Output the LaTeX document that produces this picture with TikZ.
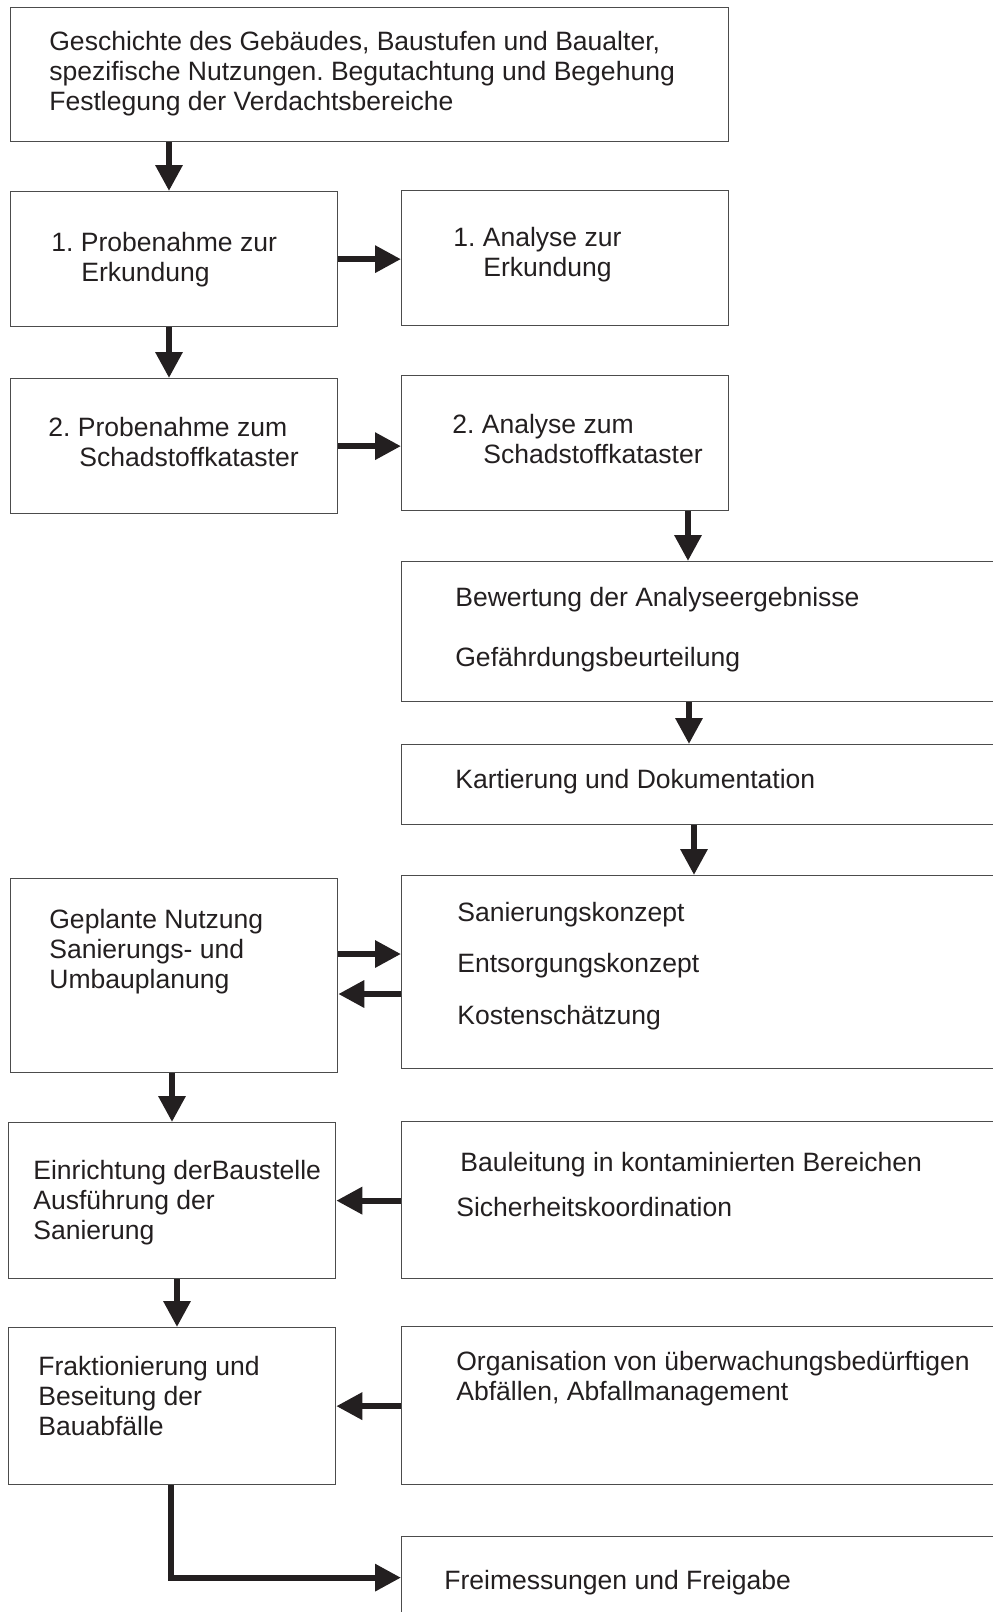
\documentclass[tikz,border=0pt]{standalone}
\usepackage{fontspec}
\setmainfont{Liberation Sans}
\usetikzlibrary{arrows.meta}
\definecolor{tinte}{HTML}{231F20}
\tikzset{
  kasten/.style={draw=black!70, line width=0.25mm, anchor=north west, inner sep=0pt},
  schmal/.style={minimum width=65.4mm},
  breit/.style={minimum width=129.8mm},
  beschriftung/.style={anchor=base west, inner sep=0pt, align=left, text=tinte,
    font=\fontsize{15.1pt}{16.8pt}\selectfont\frenchspacing},
  pfeil/.style={draw=tinte, line width=1.25mm, -{Triangle[length=5.2mm,width=5.2mm]}},
}

\begin{document}
\begin{tikzpicture}[x=0.2mm,y=-0.2mm]
\clip (0,0) rectangle (993,1612);

% Erfassung (Texte sitzen auf der Grundlinie der letzten Zeile)
\node[kasten, minimum width=143.6mm, minimum height=26.8mm] (gesch) at (10,7) {};
\node[beschriftung] (gesch-t) at (49,110) {Geschichte des Gebäudes, Baustufen und Baualter,\\spezifische Nutzungen. Begutachtung und Begehung\\Festlegung der Verdachtsbereiche};

% Probenahme und Analyse
\node[kasten, schmal, minimum height=27mm] (probe1) at (10,191) {};
\node[beschriftung] (probe1-t) at (51,281) {1. Probenahme zur\\\hspace*{6mm}Erkundung};
\node[kasten, schmal, minimum height=27mm] (analyse1) at (401,190) {};
\node[beschriftung] (analyse1-t) at (453,276) {1. Analyse zur\\\hspace*{6mm}Erkundung};
\node[kasten, schmal, minimum height=27mm] (probe2) at (10,378) {};
\node[beschriftung] (probe2-t) at (48,466) {2. Probenahme zum\\\hspace*{6.2mm}Schadstoffkataster};
\node[kasten, schmal, minimum height=27mm] (analyse2) at (401,375) {};
\node[beschriftung] (analyse2-t) at (452,463) {2. Analyse zum\\\hspace*{6.2mm}Schadstoffkataster};

% Bewertung und Dokumentation
\node[kasten, breit, minimum height=28mm] (bewertung) at (401,561) {};
\node[beschriftung] (bewertung-t) at (455,666) {Bewertung der Analyseergebnisse\\[5.9mm]Gefährdungsbeurteilung};
\node[kasten, breit, minimum height=16mm] (kartierung) at (401,744) {};
\node[beschriftung] (kartierung-t) at (455,788) {Kartierung und Dokumentation};

% Planung
\node[kasten, breit, minimum height=38.6mm] (konzept) at (401,875) {};
\node[beschriftung] (konzept-t) at (457,1024) {Sanierungskonzept\\[4.3mm]Entsorgungskonzept\\[4.3mm]Kostenschätzung};
\node[kasten, schmal, minimum height=38.8mm] (nutzung) at (10,878) {};
\node[beschriftung] (nutzung-t) at (49,988) {Geplante Nutzung\\Sanierungs- und\\Umbauplanung};

% Ausfuehrung
\node[kasten, schmal, minimum height=31.2mm] (baustelle) at (8,1122) {};
\node[beschriftung] (baustelle-t) at (33,1239) {Einrichtung derBaustelle\\Ausführung der\\Sanierung};
\node[kasten, breit, minimum height=31.4mm] (bauleitung) at (401,1121) {};
\node[beschriftung] (bauleitung-t) at (456,1216) {\hspace*{0.8mm}Bauleitung in kontaminierten Bereichen\\[2.9mm]Sicherheitskoordination};
\node[kasten, schmal, minimum height=31.4mm] (bauabfall) at (8,1327) {};
\node[beschriftung] (bauabfall-t) at (38,1435) {Fraktionierung und\\Beseitung der\\Bauabfälle};
\node[kasten, breit, minimum height=31.6mm] (abfall) at (401,1326) {};
\node[beschriftung] (abfall-t) at (456,1400) {Organisation von überwachungsbedürftigen\\Abfällen, Abfallmanagement};
\node[kasten, breit, minimum height=16.4mm] (freigabe) at (401,1536) {};
\node[beschriftung] (freigabe-t) at (444,1589) {Freimessungen und Freigabe};

% Spalten der senkrechten Pfeile
\coordinate (x-probe) at (169,0);
\coordinate (x-nutz) at (172,0);
\coordinate (x-bau) at (177,0);
\coordinate (x-frei) at (171,0);
\coordinate (x-bew) at (688,0);
\coordinate (x-kart) at (689,0);
\coordinate (x-konz) at (694,0);
\coordinate (y-hin) at (0,954);
\coordinate (y-rueck) at (0,994);

% Pfeile
\draw[pfeil] (gesch.south -| x-probe) -- (probe1.north -| x-probe);
\draw[pfeil] (probe1.east) -- (probe1.east -| analyse1.west);
\draw[pfeil] (probe1.south -| x-probe) -- (probe2.north -| x-probe);
\draw[pfeil] (probe2.east) -- (probe2.east -| analyse2.west);
\draw[pfeil] (analyse2.south -| x-bew) -- (bewertung.north -| x-bew);
\draw[pfeil] (bewertung.south -| x-kart) -- (kartierung.north -| x-kart);
\draw[pfeil] (kartierung.south -| x-konz) -- (konzept.north -| x-konz);
\draw[pfeil] (nutzung.east |- y-hin) -- (konzept.west |- y-hin);
\draw[pfeil] (konzept.west |- y-rueck) -- (nutzung.east |- y-rueck);
\draw[pfeil] (nutzung.south -| x-nutz) -- (baustelle.north -| x-nutz);
\draw[pfeil] (bauleitung.west |- baustelle.east) -- (baustelle.east);
\draw[pfeil] (baustelle.south -| x-bau) -- (bauabfall.north -| x-bau);
\draw[pfeil] (abfall.west |- bauabfall.east) -- (bauabfall.east);
\draw[pfeil] (bauabfall.south -| x-frei) |- (freigabe.west);
\end{tikzpicture}
\end{document}
